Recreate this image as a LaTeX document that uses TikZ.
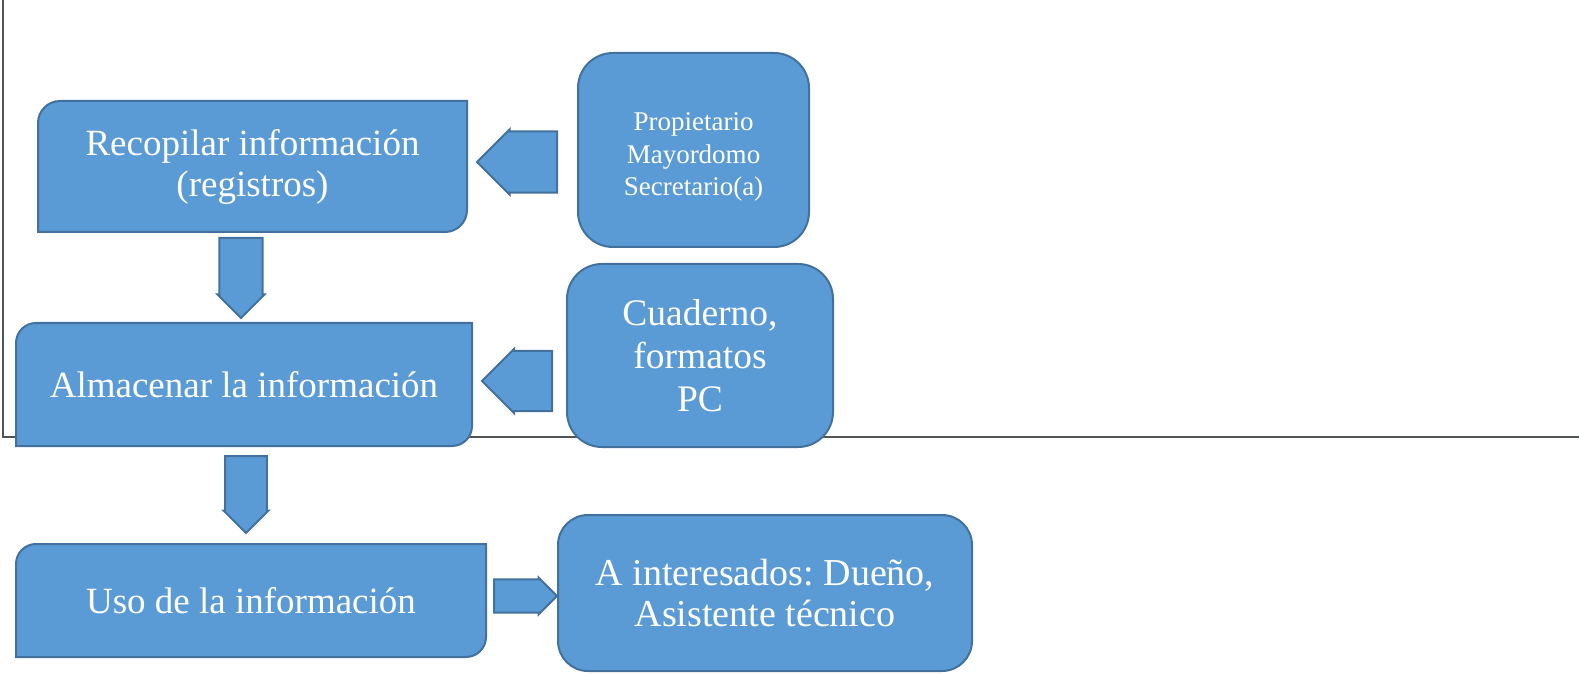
\documentclass[tikz,border=0pt]{standalone}
\usepackage{fontspec}
\setmainfont{Liberation Serif}
\usetikzlibrary{calc,shapes.arrows,backgrounds}
\definecolor{boxfill}{RGB}{91,155,213}
\definecolor{boxedge}{RGB}{65,113,156}
\definecolor{frameline}{RGB}{80,84,84}
\frenchspacing

\tikzset{
  boxtext/.style={text=white, align=center, inner sep=0pt, outer sep=0pt,
    font=\fontsize{37}{41}\selectfont},
  cutbox/.style={fill=boxfill, draw=boxedge, line width=2pt},
  softbox/.style={boxtext, fill=boxfill, draw=boxedge, line width=2pt, rounded corners=#1},
  blockarrow/.style={single arrow, fill=boxfill, draw=boxedge, line width=2pt,
    single arrow head extend=1pt, outer sep=0pt, anchor=tip}
}

\newcommand\tabshape[2]{%
  \draw[cutbox] (#1.south west) -- ([yshift=-#2pt]#1.north west)
    arc[start angle=180, end angle=90, radius=#2pt] -- (#1.north east)
    -- ([yshift=#2pt]#1.south east)
    arc[start angle=0, end angle=-90, radius=#2pt] -- cycle;}

\begin{document}
\begin{tikzpicture}[x=1pt,y=1pt]
\useasboundingbox (0,0) rectangle (1579,673);

\node[boxtext, minimum width=429pt, minimum height=131pt] (recopilar) at (252.5,506.5) {Recopilar información\\(registros)};
\node[boxtext, minimum width=456pt, minimum height=123pt] (almacenar) at (244,288.5) {Almacenar la información};
\node[boxtext, minimum width=470pt, minimum height=113pt] (uso) at (251,72.5) {Uso de la información};

\begin{scope}[on background layer]
  \coordinate (frametop) at (3,673);
  \coordinate (framecorner) at (3,236);
  \coordinate (frameend) at (1579,236);
  \draw[frameline, line width=2.2pt] (frametop) -- (framecorner) -- (frameend);
  \tabshape{recopilar}{22}
  \tabshape{almacenar}{20}
  \tabshape{uso}{20}
\end{scope}

\node[softbox=35pt, minimum width=231pt, minimum height=194pt, text height=97pt,
  font=\fontsize{27}{32.5}\selectfont] (personas) at (693.5,523) {Propietario\\Mayordomo\\Secretario(a)};
\node[softbox=35pt, minimum width=266pt, minimum height=183pt,
  font=\fontsize{37.5}{43}\selectfont] (medios) at (700,317.5) {Cuaderno,\\formatos\\PC};
\node[softbox=30pt, minimum width=414pt, minimum height=156pt,
  font=\fontsize{38}{41}\selectfont] (interesados) at (765,80) {A interesados: Dueño,\\Asistente técnico};

\node[blockarrow, shape border rotate=180, inner sep=16pt, minimum height=80pt, minimum width=65pt] (flecha1) at (477,511) {};
\node[blockarrow, shape border rotate=180, inner sep=15pt, minimum height=70pt, minimum width=64pt] (flecha2) at (482,292) {};
\node[blockarrow, shape border rotate=270, inner sep=11pt, minimum height=80pt, minimum width=47pt] (baja1) at (241,355) {};
\node[blockarrow, shape border rotate=270, inner sep=11pt, minimum height=77pt, minimum width=45pt] (baja2) at (246,140) {};
\node[blockarrow, inner sep=8.5pt, minimum height=63pt, minimum width=37pt] (flecha3) at (557,77) {};
\end{tikzpicture}
\end{document}
